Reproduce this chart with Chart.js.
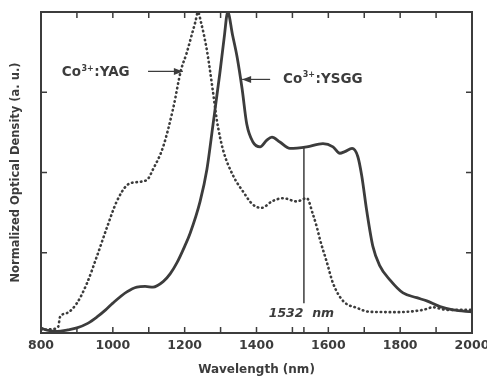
<!DOCTYPE html>
<html lang="en">
<head>
    <meta charset="UTF-8">
    <title>Co:YAG / Co:YSGG absorption</title>
    <script src="https://cdn.jsdelivr.net/npm/chart.js@4.4.1/dist/chart.umd.min.js"></script>
    <style>
        body { margin: 0; background: #fff; }
        .chart-container { width: 487px; height: 378px; }
    </style>
</head>
<body>
    <div class="chart-container">
        <canvas id="myChart"></canvas>
    </div>

    <script>
        // Co3+:YAG (dotted)
        const yagWl = [800, 830, 848, 853, 872, 900, 928, 956, 984, 1011, 1039, 1067, 1095, 1112, 1140, 1168, 1190, 1205, 1220, 1230, 1237, 1245, 1262, 1279, 1290, 1307, 1335, 1363, 1390, 1415, 1443, 1474, 1512, 1540, 1557, 1568, 1577, 1596, 1613, 1641, 1680, 1716, 1791, 1864, 1891, 1930, 2000];
        const yagOD = [0.01, 0.012, 0.02, 0.05, 0.062, 0.093, 0.155, 0.24, 0.33, 0.41, 0.46, 0.47, 0.477, 0.51, 0.58, 0.70, 0.82, 0.87, 0.93, 0.97, 1.0, 0.97, 0.88, 0.75, 0.66, 0.57, 0.49, 0.44, 0.40, 0.39, 0.41, 0.42, 0.41, 0.42, 0.37, 0.33, 0.29, 0.22, 0.155, 0.10, 0.078, 0.066, 0.065, 0.072, 0.08, 0.072, 0.072];

        // Co3+:YSGG (solid)
        const ysggWl = [800, 820, 845, 875, 900, 930, 956, 980, 1000, 1039, 1067, 1090, 1112, 1140, 1160, 1179, 1200, 1215, 1243, 1262, 1279, 1298, 1310, 1320, 1333, 1346, 1360, 1373, 1390, 1410, 1428, 1443, 1465, 1493, 1540, 1585, 1613, 1632, 1646, 1666, 1682, 1693, 1707, 1724, 1743, 1772, 1808, 1846, 1874, 1911, 1947, 2000];
        const ysggOD = [0.015, 0.008, 0.005, 0.01, 0.016, 0.03, 0.05, 0.072, 0.093, 0.128, 0.143, 0.145, 0.143, 0.16, 0.185, 0.22, 0.27, 0.31, 0.41, 0.51, 0.65, 0.81, 0.92, 1.0, 0.93, 0.86, 0.76, 0.65, 0.595, 0.58, 0.60, 0.61, 0.595, 0.575, 0.58, 0.59, 0.58, 0.56, 0.565, 0.575, 0.55, 0.49, 0.38, 0.27, 0.21, 0.165, 0.125, 0.11, 0.10, 0.082, 0.072, 0.066];

        const xMajor = [800, 1000, 1200, 1400, 1600, 1800, 2000];
        const xMinor = [900, 1100, 1300, 1500, 1700, 1900];
        const yTicks = [0.25, 0.5, 0.75];
        const markWl = 1532;

        const ink = '#3c3c3c';
        const font = 'DejaVu Sans';

        const toPts = (xs, ys) => xs.map((v, i) => ({ x: v, y: ys[i] }));

        // box frame with inward ticks, drawn from the scales
        const frame = {
            id: 'frame',
            afterDatasetsDraw(chart) {
                const { ctx, chartArea: a, scales: { x, y } } = chart;
                ctx.save();
                ctx.strokeStyle = ink;
                ctx.lineWidth = 2;
                ctx.strokeRect(a.left, a.top, a.right - a.left, a.bottom - a.top);
                ctx.lineWidth = 1.5;
                ctx.beginPath();
                xMajor.concat(xMinor).forEach(v => {
                    const px = x.getPixelForValue(v);
                    ctx.moveTo(px, a.bottom); ctx.lineTo(px, a.bottom - 6);
                    ctx.moveTo(px, a.top); ctx.lineTo(px, a.top + 6);
                });
                const mx = x.getPixelForValue(markWl);
                ctx.moveTo(mx, a.bottom); ctx.lineTo(mx, a.bottom - 6);
                yTicks.forEach(v => {
                    const py = y.getPixelForValue(v);
                    ctx.moveTo(a.left, py); ctx.lineTo(a.left + 6, py);
                    ctx.moveTo(a.right, py); ctx.lineTo(a.right - 6, py);
                });
                ctx.stroke();
                ctx.restore();
            }
        };

        function arrow(ctx, x1, y1, x2, y2) {
            const ang = Math.atan2(y2 - y1, x2 - x1);
            ctx.beginPath();
            ctx.moveTo(x1, y1); ctx.lineTo(x2, y2);
            ctx.stroke();
            ctx.beginPath();
            ctx.moveTo(x2, y2);
            ctx.lineTo(x2 - 9 * Math.cos(ang) + 3.5 * Math.sin(ang), y2 - 9 * Math.sin(ang) - 3.5 * Math.cos(ang));
            ctx.lineTo(x2 - 9 * Math.cos(ang) - 3.5 * Math.sin(ang), y2 - 9 * Math.sin(ang) + 3.5 * Math.cos(ang));
            ctx.closePath();
            ctx.fill();
        }

        // "Co" + raised "3+" + rest
        function ionLabel(ctx, rest, px, py) {
            ctx.font = 'bold 13.5px ' + font;
            ctx.fillText('Co', px, py);
            let w = ctx.measureText('Co').width;
            ctx.font = 'bold 8px ' + font;
            ctx.fillText('3+', px + w + 0.5, py - 4);
            w += ctx.measureText('3+').width + 1;
            ctx.font = 'bold 13.5px ' + font;
            ctx.fillText(rest, px + w, py);
        }

        const notes = {
            id: 'notes',
            afterDatasetsDraw(chart) {
                const { ctx, scales: { x, y } } = chart;
                ctx.save();
                ctx.fillStyle = ink;
                ctx.strokeStyle = ink;
                ctx.lineWidth = 1.2;
                ctx.textBaseline = 'middle';
                ionLabel(ctx, ':YAG', x.getPixelForValue(858), y.getPixelForValue(0.81));
                arrow(ctx, x.getPixelForValue(1098), y.getPixelForValue(0.815), x.getPixelForValue(1195), y.getPixelForValue(0.815));
                ionLabel(ctx, ':YSGG', x.getPixelForValue(1474), y.getPixelForValue(0.79));
                arrow(ctx, x.getPixelForValue(1438), y.getPixelForValue(0.79), x.getPixelForValue(1360), y.getPixelForValue(0.79));

                // 1532 nm marker
                const mx = x.getPixelForValue(markWl);
                ctx.lineWidth = 1.5;
                ctx.beginPath();
                ctx.moveTo(mx, y.getPixelForValue(0.58));
                ctx.lineTo(mx, y.getPixelForValue(0.093));
                ctx.stroke();
                ctx.font = 'italic bold 12.5px ' + font;
                ctx.textAlign = 'center';
                ctx.fillText('1532  nm', x.getPixelForValue(1525), y.getPixelForValue(0.06));
                ctx.restore();
            }
        };

        const data = {
            datasets: [{
                    label: 'Co3+:YAG',
                    data: toPts(yagWl, yagOD),
                    borderColor: ink,
                    borderWidth: 2.6,
                    borderDash: [0.5, 4],
                    borderCapStyle: 'round',
                    pointRadius: 0,
                    cubicInterpolationMode: 'monotone'
                },
                {
                    label: 'Co3+:YSGG',
                    data: toPts(ysggWl, ysggOD),
                    borderColor: ink,
                    borderWidth: 2.8,
                    pointRadius: 0,
                    cubicInterpolationMode: 'monotone'
                }
            ]
        };

        const config = {
            type: 'line',
            data,
            options: {
                responsive: true,
                maintainAspectRatio: false,
                animation: false,
                layout: { padding: { top: 12, right: 0, left: 0, bottom: 0 } },
                scales: {
                    x: {
                        type: 'linear',
                        min: 800,
                        max: 2000,
                        afterBuildTicks: s => { s.ticks = xMajor.map(v => ({ value: v })); },
                        afterFit: s => { s.height = 45; s.paddingRight = 15; },
                        grid: { display: false, drawTicks: false },
                        border: { display: false },
                        ticks: {
                            color: ink,
                            padding: 5,
                            maxRotation: 0,
                            callback: v => String(v),
                            font: { family: font, size: 12.5, weight: 'bold' }
                        },
                        title: {
                            display: true,
                            text: 'Wavelength (nm)',
                            color: ink,
                            padding: { top: 0, bottom: 1 },
                            font: { family: font, size: 12, weight: 'bold' }
                        }
                    },
                    y: {
                        min: 0,
                        max: 1,
                        afterFit: s => { s.width = 41; },
                        grid: { display: false, drawTicks: false },
                        border: { display: false },
                        ticks: { display: false },
                        title: {
                            display: true,
                            text: 'Normalized Optical Density (a. u.)',
                            color: ink,
                            padding: { top: 9, bottom: 0 },
                            font: { family: font, size: 11.5, weight: 'bold' }
                        }
                    }
                },
                plugins: {
                    legend: { display: false },
                    tooltip: { enabled: false }
                }
            },
            plugins: [frame, notes]
        };

        const ctx = document.getElementById('myChart').getContext('2d');
        const myChart = new Chart(ctx, config);
    </script>
</body>
</html>
